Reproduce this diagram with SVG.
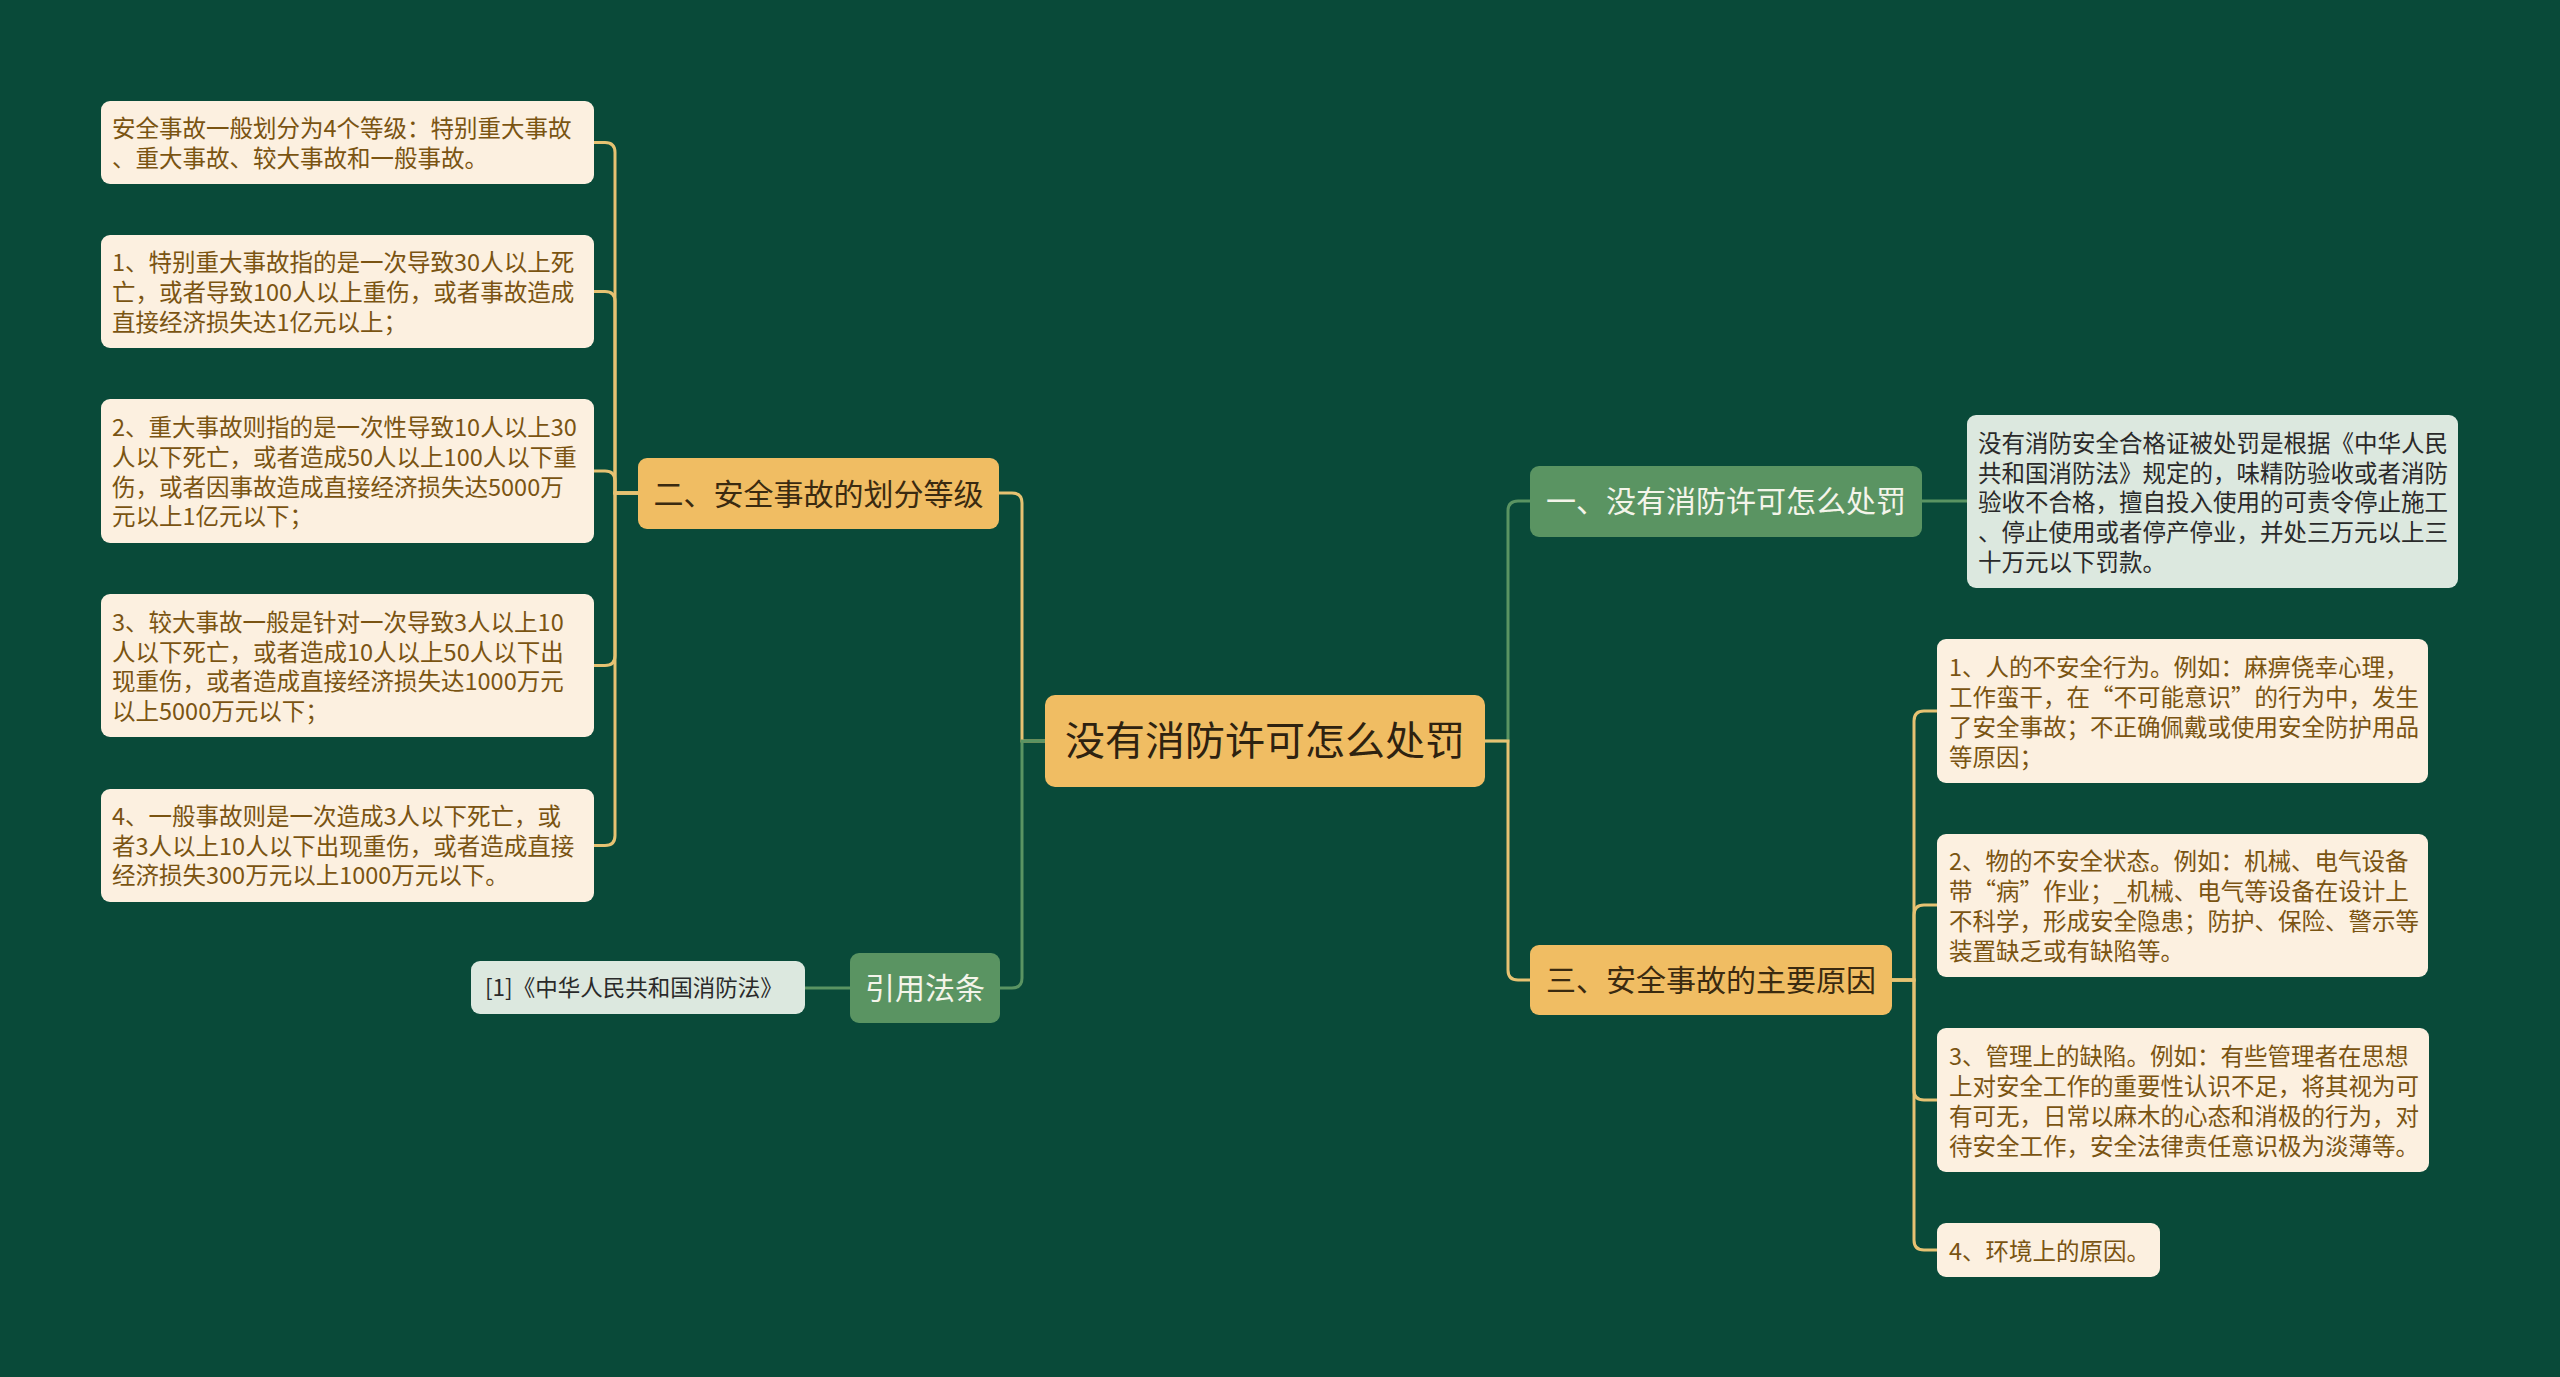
<svg xmlns="http://www.w3.org/2000/svg" width="2560" height="1377" viewBox="0 0 2560 1377">
<style>
text{font-family:"Noto Sans CJK SC","Noto Sans",sans-serif;}
.leaf{fill:#fcf0e0;}
.leafg{fill:#dce8df;}
.gold{fill:#f0bd63;}
.green{fill:#5a9462;}
.lt{font-size:23.5px;fill:#7a5412;}
.dt{font-size:23.5px;fill:#2a2a2a;}
.nt{font-size:30px;fill:#3a2a10;text-anchor:middle;}
.wt{font-size:30px;fill:#f4f4ea;text-anchor:middle;}
.rt{font-size:40px;fill:#2e2210;text-anchor:middle;}
.cg{fill:none;stroke:#e6c272;stroke-width:3;}
.cn{fill:none;stroke:#5a9462;stroke-width:3;}
</style>
<rect width="2560" height="1377" fill="#094a39"/>
<g id="connectors">
<path class="cg" d="M594 142.5 H605 Q615 142.5 615 152.5 V493 H638"/>
<path class="cg" d="M594 291.5 H605 Q615 291.5 615 301.5 V493 H638"/>
<path class="cg" d="M594 471 H605 Q615 471 615 481 V493 H638"/>
<path class="cg" d="M594 665.5 H605 Q615 665.5 615 655.5 V493 H638"/>
<path class="cg" d="M594 845.5 H605 Q615 845.5 615 835.5 V493 H638"/>
<path class="cg" d="M999 493 H1012 Q1022 493 1022 503 V741 H1045"/>
<path class="cn" d="M1000 988 H1012 Q1022 988 1022 978 V741 H1045"/>
<path class="cn" d="M805 988 H850"/>
<path class="cn" d="M1485 741 H1508 V511 Q1508 501 1518 501 H1530"/>
<path class="cg" d="M1485 741 H1508 V970 Q1508 980 1518 980 H1530"/>
<path class="cn" d="M1922 501 H1967"/>
<path class="cg" d="M1892 980 H1914 V721 Q1914 711 1924 711 H1937"/>
<path class="cg" d="M1892 980 H1914 V915 Q1914 905 1924 905 H1937"/>
<path class="cg" d="M1892 980 H1914 V1090 Q1914 1100 1924 1100 H1937"/>
<path class="cg" d="M1892 980 H1914 V1240 Q1914 1250 1924 1250 H1937"/>
</g>
<g id="root">
<rect class="gold" x="1045" y="695" width="440" height="92" rx="10"/>
<text class="rt" x="1265" y="755">没有消防许可怎么处罚</text>
</g>
<g id="n2">
<rect class="gold" x="638" y="458" width="361" height="71" rx="9"/>
<text class="nt" x="818.5" y="505">二、安全事故的划分等级</text>
</g>
<g id="l2a">
<rect class="leaf" x="101" y="101" width="493" height="83" rx="9"/>
<text class="lt" x="112"><tspan x="112" y="137">安全事故一般划分为4个等级：特别重大事故</tspan><tspan x="112" y="167">、重大事故、较大事故和一般事故。</tspan></text>
</g>
<g id="l2b">
<rect class="leaf" x="101" y="235" width="493" height="113" rx="9"/>
<text class="lt"><tspan x="112" y="271">1、特别重大事故指的是一次导致30人以上死</tspan><tspan x="112" y="301">亡，或者导致100人以上重伤，或者事故造成</tspan><tspan x="112" y="331">直接经济损失达1亿元以上；</tspan></text>
</g>
<g id="l2c">
<rect class="leaf" x="101" y="399" width="493" height="144" rx="9"/>
<text class="lt"><tspan x="112" y="436">2、重大事故则指的是一次性导致10人以上30</tspan><tspan x="112" y="466">人以下死亡，或者造成50人以上100人以下重</tspan><tspan x="112" y="496">伤，或者因事故造成直接经济损失达5000万</tspan><tspan x="112" y="525">元以上1亿元以下；</tspan></text>
</g>
<g id="l2d">
<rect class="leaf" x="101" y="594" width="493" height="143" rx="9"/>
<text class="lt"><tspan x="112" y="631">3、较大事故一般是针对一次导致3人以上10</tspan><tspan x="112" y="661">人以下死亡，或者造成10人以上50人以下出</tspan><tspan x="112" y="690">现重伤，或者造成直接经济损失达1000万元</tspan><tspan x="112" y="720">以上5000万元以下；</tspan></text>
</g>
<g id="l2e">
<rect class="leaf" x="101" y="789" width="493" height="113" rx="9"/>
<text class="lt"><tspan x="112" y="825">4、一般事故则是一次造成3人以下死亡，或</tspan><tspan x="112" y="855">者3人以上10人以下出现重伤，或者造成直接</tspan><tspan x="112" y="884">经济损失300万元以上1000万元以下。</tspan></text>
</g>
<g id="ref">
<rect class="green" x="850" y="953" width="150" height="70" rx="9"/>
<text class="wt" x="925" y="999">引用法条</text>
</g>
<g id="refleaf">
<rect class="leafg" x="471" y="961" width="334" height="53" rx="9"/>
<text class="dt" x="485" y="996" style="font-size:22.5px">[1]《中华人民共和国消防法》</text>
</g>
<g id="n1">
<rect class="green" x="1530" y="466" width="392" height="71" rx="9"/>
<text class="wt" x="1726" y="512">一、没有消防许可怎么处罚</text>
</g>
<g id="l1a">
<rect class="leafg" x="1967" y="415" width="491" height="173" rx="9"/>
<text class="dt"><tspan x="1978" y="452">没有消防安全合格证被处罚是根据《中华人民</tspan><tspan x="1978" y="482">共和国消防法》规定的，味精防验收或者消防</tspan><tspan x="1978" y="511">验收不合格，擅自投入使用的可责令停止施工</tspan><tspan x="1978" y="541">、停止使用或者停产停业，并处三万元以上三</tspan><tspan x="1978" y="571">十万元以下罚款。</tspan></text>
</g>
<g id="n3">
<rect class="gold" x="1530" y="945" width="362" height="70" rx="9"/>
<text class="nt" x="1711" y="991">三、安全事故的主要原因</text>
</g>
<g id="l3a">
<rect class="leaf" x="1937" y="639" width="491" height="144" rx="9"/>
<text class="lt"><tspan x="1949" y="676">1、人的不安全行为。例如：麻痹侥幸心理，</tspan><tspan x="1949" y="706">工作蛮干，在“不可能意识”的行为中，发生</tspan><tspan x="1949" y="736">了安全事故；不正确佩戴或使用安全防护用品</tspan><tspan x="1949" y="766">等原因；</tspan></text>
</g>
<g id="l3b">
<rect class="leaf" x="1937" y="834" width="491" height="143" rx="9"/>
<text class="lt"><tspan x="1949" y="870">2、物的不安全状态。例如：机械、电气设备</tspan><tspan x="1949" y="900">带“病”作业；_机械、电气等设备在设计上</tspan><tspan x="1949" y="930">不科学，形成安全隐患；防护、保险、警示等</tspan><tspan x="1949" y="960">装置缺乏或有缺陷等。</tspan></text>
</g>
<g id="l3c">
<rect class="leaf" x="1937" y="1028" width="492" height="144" rx="9"/>
<text class="lt"><tspan x="1949" y="1065">3、管理上的缺陷。例如：有些管理者在思想</tspan><tspan x="1949" y="1095">上对安全工作的重要性认识不足，将其视为可</tspan><tspan x="1949" y="1125">有可无，日常以麻木的心态和消极的行为，对</tspan><tspan x="1949" y="1155">待安全工作，安全法律责任意识极为淡薄等。</tspan></text>
</g>
<g id="l3d">
<rect class="leaf" x="1937" y="1223" width="223" height="54" rx="9"/>
<text class="lt" x="1949" y="1260">4、环境上的原因。</text>
</g>
</svg>
